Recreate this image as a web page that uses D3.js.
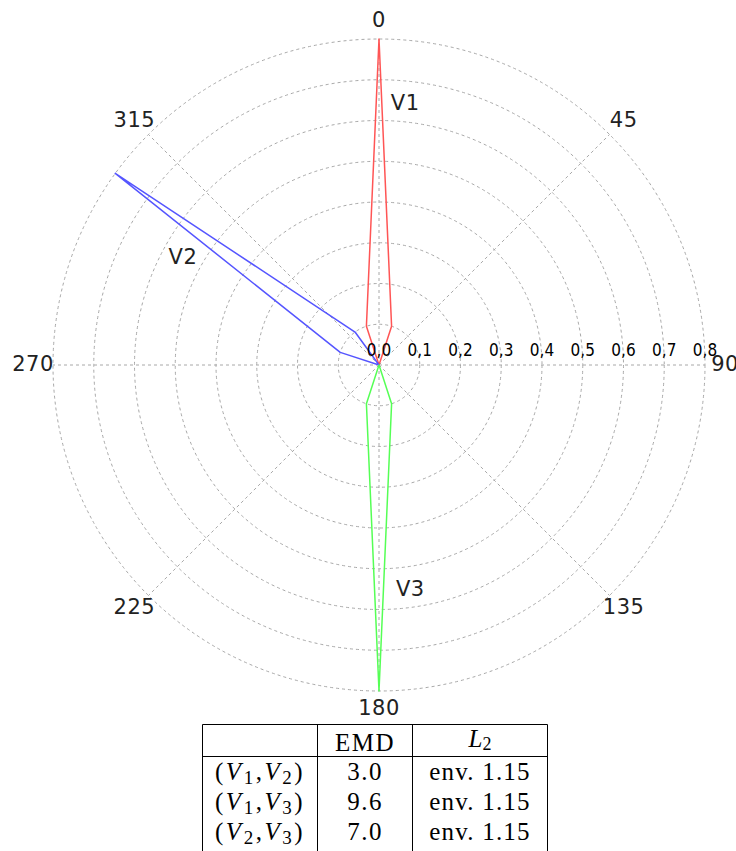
<!DOCTYPE html>
<html>
<head>
<meta charset="utf-8">
<script src="https://cdn.jsdelivr.net/npm/d3@7"></script>
<style>
	body { margin: 0; background: #fff; }
	svg { display: block; }
</style>
</head>
<body>
<div id="chart"></div>
<script>
// angle bins (degrees, clockwise from north)
const angles = [0, 18, 36, 54, 72, 90, 108, 126, 144, 162, 180, 198, 216, 234, 252, 270, 288, 306, 324, 342]
const seriesNames = ['V1', 'V2', 'V3']
const v1 = [0.8, 0.1, 0, 0, 0, 0, 0, 0, 0, 0, 0, 0, 0, 0, 0, 0, 0, 0, 0, 0.1]
const v2 = [0, 0, 0, 0, 0, 0, 0, 0, 0, 0, 0, 0, 0, 0, 0, 0, 0.1, 0.8, 0.1, 0]
const v3 = [0, 0, 0, 0, 0, 0, 0, 0, 0, 0.1, 0.8, 0.1, 0, 0, 0, 0, 0, 0, 0, 0]

const radialTicks = [0, 0.1, 0.2, 0.3, 0.4, 0.5, 0.6, 0.7, 0.8]
const radialTickLabels = ['0,0', '0,1', '0,2', '0,3', '0,4', '0,5', '0,6', '0,7', '0,8']
const angleTicks = [0, 45, 90, 135, 180, 225, 270, 315]

const tableHeader = ['', 'EMD', 'L2']
const pairs = [['1', '2'], ['1', '3'], ['2', '3']]
const emd = ['3.0', '9.6', '7.0']
const l2 = ['env. 1.15', 'env. 1.15', 'env. 1.15']

const width = 736, height = 851
const cx = 379, cy = 365
const colours = ['#ff5555', '#5555ff', '#55ff55']

const svg = d3.select('#chart').append('svg')
	.attr('width', width)
	.attr('height', height)

const r = d3.scaleLinear().domain([0, 0.8]).range([0, 326])
const rad = d => d * Math.PI / 180

const plot = svg.append('g')
	.attr('transform', `translate(${cx},${cy})`)

// grid rings
plot.selectAll('circle.ring')
	.data(radialTicks.slice(1))
	.enter()
		.append('circle')
			.attr('class', 'ring')
			.attr('r', d => r(d))
			.attr('fill', 'none')
			.attr('stroke', '#a8a8a8')
			.attr('stroke-dasharray', '3,3')

// spokes
plot.selectAll('line.spoke')
	.data(angleTicks)
	.enter()
		.append('line')
			.attr('class', 'spoke')
			.attr('x1', 0).attr('y1', 0)
			.attr('x2', d => r(0.8) * Math.sin(rad(d)))
			.attr('y2', d => -r(0.8) * Math.cos(rad(d)))
			.attr('stroke', '#a8a8a8')
			.attr('stroke-dasharray', '3,3')

// angle labels
plot.selectAll('text.angle')
	.data(angleTicks)
	.enter()
		.append('text')
			.attr('class', 'angle')
			.attr('x', d => 346 * Math.sin(rad(d)))
			.attr('y', d => -344 * Math.cos(rad(d)) - 2)
			.attr('dy', '0.36em')
			.attr('text-anchor', 'middle')
			.attr('font-family', 'DejaVu Sans')
			.attr('font-size', 21)
			.attr('letter-spacing', 0.5)
			.attr('fill', '#222')
			.text(d => d)

// series polygons
const radial = d3.lineRadial()
	.angle((d, i) => rad(angles[i]))
	.radius(d => r(d))
	.curve(d3.curveLinearClosed)

plot.selectAll('path.series')
	.data([v1, v2, v3])
	.enter()
		.append('path')
			.attr('class', 'series')
			.attr('d', radial)
			.attr('fill', 'none')
			.attr('stroke', (d, i) => colours[i])
			.attr('stroke-width', 1.5)
			.attr('stroke-linejoin', 'round')

// radial tick labels
plot.selectAll('text.rtick')
	.data(radialTicks)
	.enter()
		.append('text')
			.attr('class', 'rtick')
			.attr('x', d => r(d))
			.attr('y', -9)
			.attr('text-anchor', 'middle')
			.attr('font-family', "'DejaVu Sans Condensed', 'DejaVu Sans'")
			.attr('font-stretch', 'condensed')
			.attr('font-size', 17)
			.attr('fill', '#000')
			.text((d, i) => radialTickLabels[i])

// series name labels (angle, radius)
const namePos = [[5.7, 0.647], [299, 0.55], [172, 0.553]]
plot.selectAll('text.name')
	.data(seriesNames)
	.enter()
		.append('text')
			.attr('class', 'name')
			.attr('x', (d, i) => r(namePos[i][1]) * Math.sin(rad(namePos[i][0])))
			.attr('y', (d, i) => -r(namePos[i][1]) * Math.cos(rad(namePos[i][0])))
			.attr('dy', '0.36em')
			.attr('text-anchor', 'middle')
			.attr('font-family', 'DejaVu Sans')
			.attr('font-size', 21)
			.attr('letter-spacing', 0.5)
			.attr('fill', '#222')
			.text(d => d)

// table
const colX = [202.5, 317.5, 412.5, 547.5]
const tableTop = 724.5, headBottom = 756.5
const rowBase = [780, 810, 840]
const table = svg.append('g')
	.attr('font-family', "'Liberation Serif', serif")
	.attr('font-size', 25)
	.attr('fill', '#000')
	.attr('text-anchor', 'middle')

table.append('line')
	.attr('x1', colX[0]).attr('x2', colX[3])
	.attr('y1', tableTop).attr('y2', tableTop)
	.attr('stroke', '#000')
table.append('line')
	.attr('x1', colX[0]).attr('x2', colX[3])
	.attr('y1', headBottom).attr('y2', headBottom)
	.attr('stroke', '#000')
table.selectAll('line.col')
	.data(colX)
	.enter()
		.append('line')
			.attr('class', 'col')
			.attr('x1', d => d).attr('x2', d => d)
			.attr('y1', tableTop).attr('y2', height + 2)
			.attr('stroke', '#000')

const mid = i => (colX[i] + colX[i + 1]) / 2

table.append('text')
	.attr('x', mid(1)).attr('y', 751)
	.attr('letter-spacing', 1.5)
	.text(tableHeader[1])

const l2Head = table.append('text')
	.attr('x', mid(2)).attr('y', 747)
l2Head.append('tspan').attr('font-style', 'italic').text(tableHeader[2][0])
l2Head.append('tspan').attr('font-size', 18).attr('dy', 3).text(tableHeader[2][1])

pairs.forEach((p, i) => {
	const t = table.append('text')
		.attr('x', mid(0)).attr('y', rowBase[i])
		.attr('letter-spacing', 2.5)
	t.append('tspan').text('(')
	t.append('tspan').attr('font-style', 'italic').text('V')
	t.append('tspan').attr('font-size', 19).attr('dy', 4).text(p[0])
	t.append('tspan').attr('dy', -4).text(',')
	t.append('tspan').attr('font-style', 'italic').text('V')
	t.append('tspan').attr('font-size', 19).attr('dy', 4).text(p[1])
	t.append('tspan').attr('dy', -4).text(')')

	table.append('text')
		.attr('x', mid(1)).attr('y', rowBase[i])
		.attr('letter-spacing', 1.5)
		.text(emd[i])

	table.append('text')
		.attr('x', mid(2)).attr('y', rowBase[i])
		.attr('letter-spacing', 1.2)
		.text(l2[i])
})
</script>
</body>
</html>
